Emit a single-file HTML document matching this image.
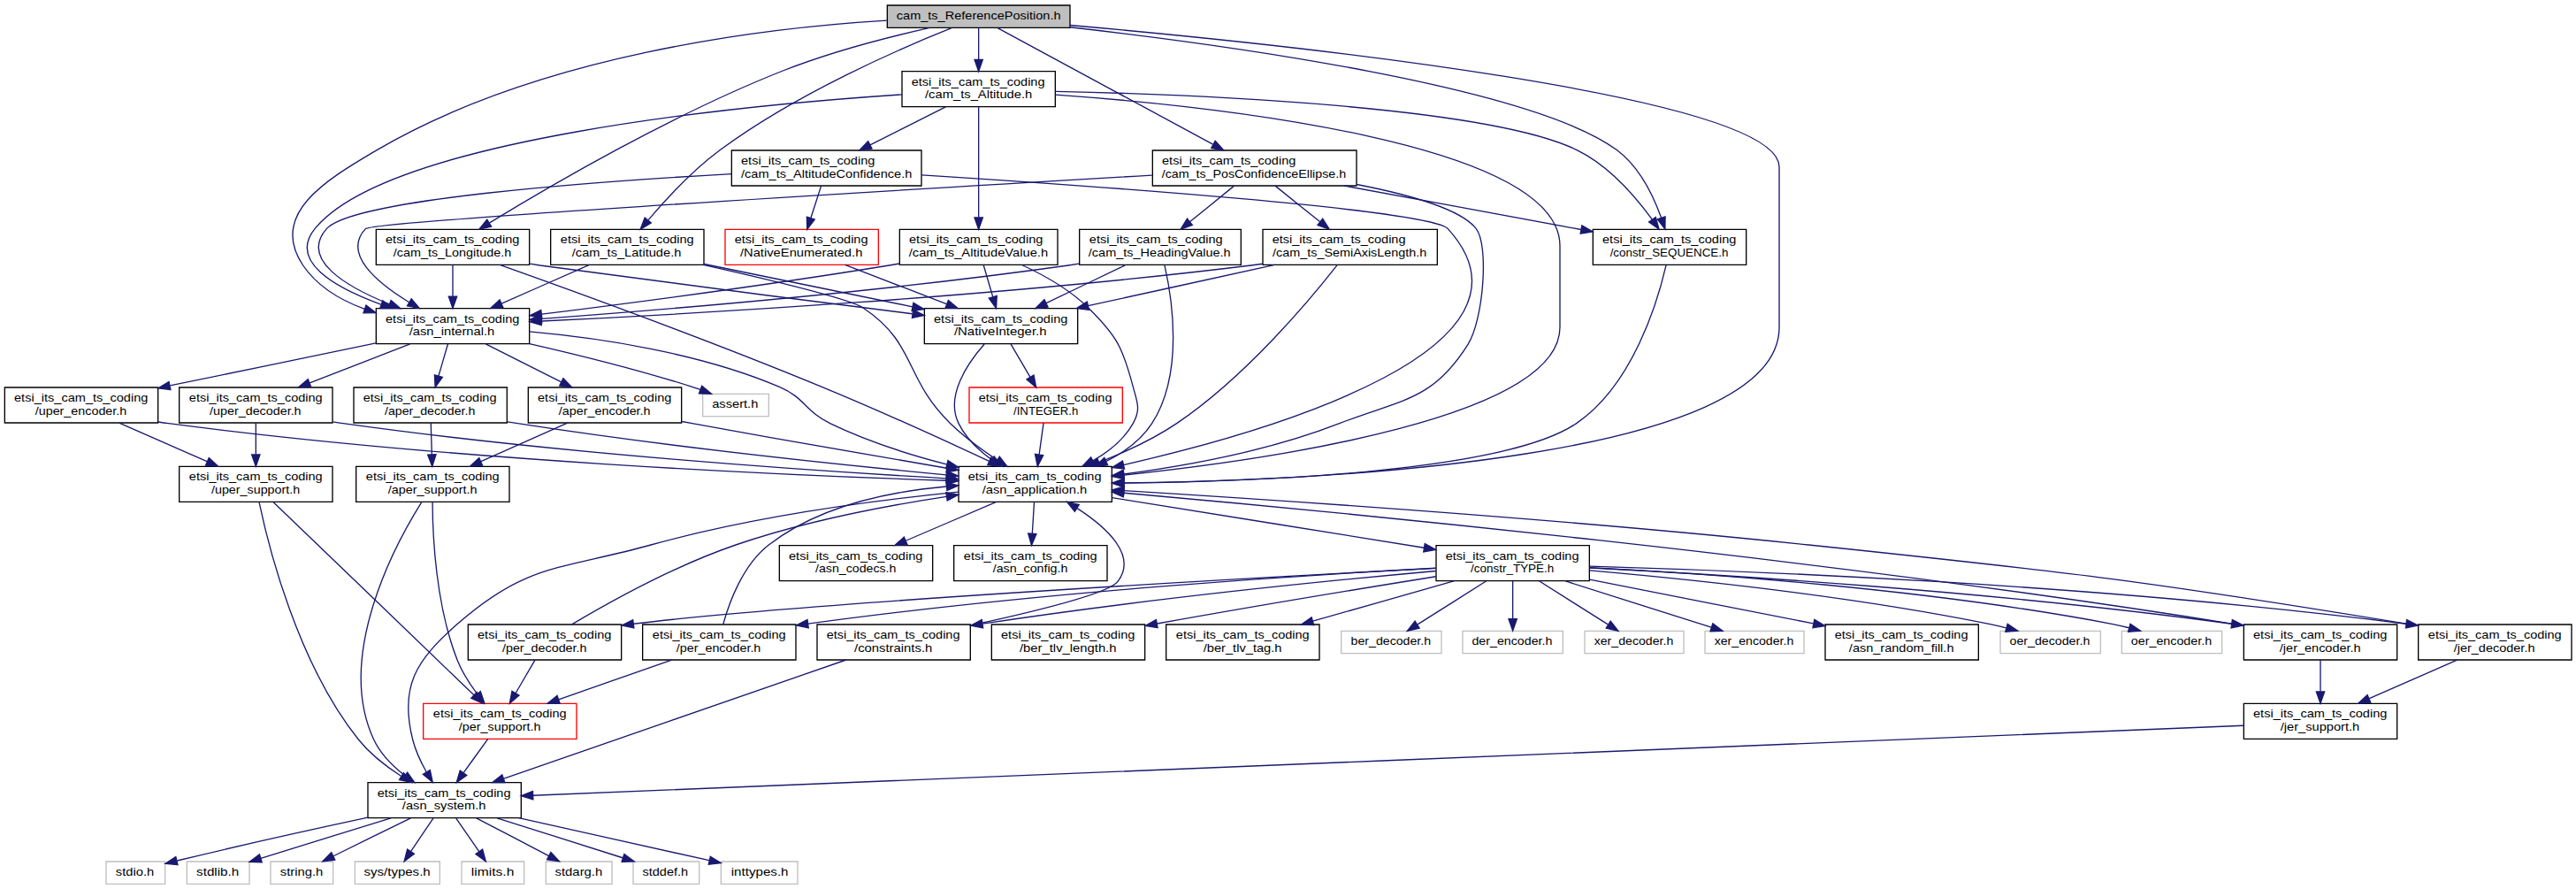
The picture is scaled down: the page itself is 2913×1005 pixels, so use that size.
<!DOCTYPE html>
<html><head><meta charset="utf-8">
<title>cam_ts_ReferencePosition.h include dependency graph</title><style>
html,body{margin:0;padding:0;background:#fff;overflow:hidden;}
svg{display:block;}
text{font-family:"Liberation Sans",sans-serif;font-size:10.00px;fill:#000;}
</style></head><body>
<svg width="2913" height="1005">
<g transform="scale(1.3333333) translate(4 750)">
<polygon fill="#bfbfbf" stroke="black" points="748.5,-726.5 748.5,-745.5 903.5,-745.5 903.5,-726.5 748.5,-726.5"/>
<text x="756.35" y="-733.5" textLength="139.31" lengthAdjust="spacingAndGlyphs">cam_ts_ReferencePosition.h</text>
<polygon fill="white" stroke="black" points="809,-324.5 809,-354.5 939,-354.5 939,-324.5 809,-324.5"/>
<text x="817.00" y="-342.5" textLength="113.14" lengthAdjust="spacingAndGlyphs">etsi_its_cam_ts_coding</text>
<text x="829.01" y="-331.5" textLength="88.85" lengthAdjust="spacingAndGlyphs">/asn_application.h</text>
<path fill="none" stroke="midnightblue" d="M903.56,-728.6C1081.72,-712.86 1505,-669.09 1505,-608.5 1505,-608.5 1505,-608.5 1505,-472.5 1505,-360.13 1116.8,-342.83 949.37,-340.59"/>
<polygon fill="midnightblue" stroke="midnightblue" points="949.19,-337.09 939.15,-340.47 949.11,-344.09 949.19,-337.09"/>
<polygon fill="white" stroke="black" points="463,-525.5 463,-555.5 593,-555.5 593,-525.5 463,-525.5"/>
<text x="471.37" y="-543.5" textLength="113.15" lengthAdjust="spacingAndGlyphs">etsi_its_cam_ts_coding</text>
<text x="481.10" y="-532.5" textLength="92.66" lengthAdjust="spacingAndGlyphs">/cam_ts_Latitude.h</text>
<path fill="none" stroke="midnightblue" d="M803.5,-726.39C762.21,-709.98 672.58,-671.5 607,-623 583.58,-605.68 560.87,-581.19 545.86,-563.58"/>
<polygon fill="midnightblue" stroke="midnightblue" points="548.24,-560.98 539.13,-555.56 542.87,-565.47 548.24,-560.98"/>
<polygon fill="white" stroke="black" points="315,-458.5 315,-488.5 445,-488.5 445,-458.5 315,-458.5"/>
<text x="323.00" y="-476.5" textLength="113.52" lengthAdjust="spacingAndGlyphs">etsi_its_cam_ts_coding</text>
<text x="343.04" y="-465.5" textLength="72.42" lengthAdjust="spacingAndGlyphs">/asn_internal.h</text>
<path fill="none" stroke="midnightblue" d="M748.07,-732.61C643.15,-726.25 453.75,-703.5 316,-623 271.29,-596.88 223.93,-567.85 253,-525 265.19,-507.03 284.89,-495.46 305.18,-488"/>
<polygon fill="midnightblue" stroke="midnightblue" points="306.47,-491.26 314.84,-484.76 304.24,-484.62 306.47,-491.26"/>
<polygon fill="white" stroke="black" points="315,-525.5 315,-555.5 445,-555.5 445,-525.5 315,-525.5"/>
<text x="323.00" y="-543.5" textLength="113.52" lengthAdjust="spacingAndGlyphs">etsi_its_cam_ts_coding</text>
<text x="329.56" y="-532.5" textLength="100.13" lengthAdjust="spacingAndGlyphs">/cam_ts_Longitude.h</text>
<path fill="none" stroke="midnightblue" d="M784.59,-726.48C750.49,-718.82 701.24,-706.29 660,-690 565.57,-652.7 461.8,-592.02 411.22,-561.05"/>
<polygon fill="midnightblue" stroke="midnightblue" points="412.75,-557.88 402.4,-555.62 409.08,-563.84 412.75,-557.88"/>
<polygon fill="white" stroke="black" points="973.5,-592.5 973.5,-622.5 1146.5,-622.5 1146.5,-592.5 973.5,-592.5"/>
<text x="981.50" y="-610.5" textLength="113.52" lengthAdjust="spacingAndGlyphs">etsi_its_cam_ts_coding</text>
<text x="981.26" y="-599.5" textLength="156.34" lengthAdjust="spacingAndGlyphs">/cam_ts_PosConfidenceEllipse.h</text>
<path fill="none" stroke="midnightblue" d="M842.08,-726.31C879.51,-706.07 973.15,-655.45 1024.66,-627.6"/>
<polygon fill="midnightblue" stroke="midnightblue" points="1026.63,-630.52 1033.77,-622.68 1023.3,-624.36 1026.63,-630.52"/>
<polygon fill="white" stroke="black" points="1347,-525.5 1347,-555.5 1477,-555.5 1477,-525.5 1347,-525.5"/>
<text x="1355.00" y="-543.5" textLength="113.52" lengthAdjust="spacingAndGlyphs">etsi_its_cam_ts_coding</text>
<text x="1361.49" y="-532.5" textLength="100.28" lengthAdjust="spacingAndGlyphs">/constr_SEQUENCE.h</text>
<path fill="none" stroke="midnightblue" d="M903.56,-726.96C1034.96,-712.06 1294.19,-676.68 1367,-623 1386.21,-608.84 1398.23,-583.9 1404.96,-565.33"/>
<polygon fill="midnightblue" stroke="midnightblue" points="1408.31,-566.37 1408.17,-555.77 1401.67,-564.14 1408.31,-566.37"/>
<polygon fill="white" stroke="black" points="761,-659.5 761,-689.5 891,-689.5 891,-659.5 761,-659.5"/>
<text x="769.00" y="-677.5" textLength="113.14" lengthAdjust="spacingAndGlyphs">etsi_its_cam_ts_coding</text>
<text x="780.52" y="-666.5" textLength="90.96" lengthAdjust="spacingAndGlyphs">/cam_ts_Altitude.h</text>
<path fill="none" stroke="midnightblue" d="M826,-726.48C826,-719.47 826,-709.19 826,-699.7"/>
<polygon fill="midnightblue" stroke="midnightblue" points="829.5,-699.52 826,-689.52 822.5,-699.52 829.5,-699.52"/>
<polygon fill="white" stroke="black" points="308,-56.5 308,-86.5 438,-86.5 438,-56.5 308,-56.5"/>
<text x="316.00" y="-74.5" textLength="113.14" lengthAdjust="spacingAndGlyphs">etsi_its_cam_ts_coding</text>
<text x="337.14" y="-63.5" textLength="70.96" lengthAdjust="spacingAndGlyphs">/asn_system.h</text>
<path fill="none" stroke="midnightblue" d="M808.72,-332.92C742.22,-326.19 636.57,-312.59 548,-288 472.13,-266.94 443.12,-273 384,-221 348.92,-190.15 334.65,-168.31 346,-123 348.39,-113.47 352.95,-103.77 357.66,-95.46"/>
<polygon fill="midnightblue" stroke="midnightblue" points="360.75,-97.11 362.93,-86.74 354.76,-93.49 360.75,-97.11"/>
<polygon fill="white" stroke="black" points="657,-257.5 657,-287.5 787,-287.5 787,-257.5 657,-257.5"/>
<text x="665.00" y="-275.5" textLength="113.52" lengthAdjust="spacingAndGlyphs">etsi_its_cam_ts_coding</text>
<text x="687.55" y="-264.5" textLength="68.52" lengthAdjust="spacingAndGlyphs">/asn_codecs.h</text>
<path fill="none" stroke="midnightblue" d="M841.02,-324.4C818.51,-314.77 788.5,-301.94 764.24,-291.56"/>
<polygon fill="midnightblue" stroke="midnightblue" points="765.49,-288.29 754.92,-287.58 762.74,-294.73 765.49,-288.29"/>
<polygon fill="white" stroke="black" points="805,-257.5 805,-287.5 935,-287.5 935,-257.5 805,-257.5"/>
<text x="813.37" y="-275.5" textLength="113.15" lengthAdjust="spacingAndGlyphs">etsi_its_cam_ts_coding</text>
<text x="838.04" y="-264.5" textLength="63.53" lengthAdjust="spacingAndGlyphs">/asn_config.h</text>
<path fill="none" stroke="midnightblue" d="M873.13,-324.4C872.65,-316.56 872.04,-306.6 871.48,-297.57"/>
<polygon fill="midnightblue" stroke="midnightblue" points="874.97,-297.34 870.87,-287.58 867.99,-297.77 874.97,-297.34"/>
<polygon fill="white" stroke="black" points="1214,-257.5 1214,-287.5 1344,-287.5 1344,-257.5 1214,-257.5"/>
<text x="1222.00" y="-275.5" textLength="113.14" lengthAdjust="spacingAndGlyphs">etsi_its_cam_ts_coding</text>
<text x="1243.29" y="-264.5" textLength="70.67" lengthAdjust="spacingAndGlyphs">/constr_TYPE.h</text>
<path fill="none" stroke="midnightblue" d="M939.07,-328.06C1011.29,-316.47 1127.68,-297.79 1203.76,-285.58"/>
<polygon fill="midnightblue" stroke="midnightblue" points="1204.44,-289.01 1213.76,-283.97 1203.33,-282.1 1204.44,-289.01"/>
<polygon fill="white" stroke="#bfbfbf" points="86,-0.5 86,-19.5 136,-19.5 136,-0.5 86,-0.5"/>
<text x="94.15" y="-7.5" textLength="32.59" lengthAdjust="spacingAndGlyphs">stdio.h</text>
<path fill="none" stroke="midnightblue" d="M307.97,-56.84C264.68,-47.57 206.31,-34.75 146.26,-20.24"/>
<polygon fill="midnightblue" stroke="midnightblue" points="146.77,-16.76 136.22,-17.8 145.11,-23.56 146.77,-16.76"/>
<polygon fill="white" stroke="#bfbfbf" points="154.5,-0.5 154.5,-19.5 207.5,-19.5 207.5,-0.5 154.5,-0.5"/>
<text x="162.55" y="-7.5" textLength="36.15" lengthAdjust="spacingAndGlyphs">stdlib.h</text>
<path fill="none" stroke="midnightblue" d="M327.5,-56.4C293.78,-45.95 248.43,-31.9 217.17,-22.21"/>
<polygon fill="midnightblue" stroke="midnightblue" points="218.14,-18.84 207.55,-19.23 216.06,-25.53 218.14,-18.84"/>
<polygon fill="white" stroke="#bfbfbf" points="225.5,-0.5 225.5,-19.5 278.5,-19.5 278.5,-0.5 225.5,-0.5"/>
<text x="233.64" y="-7.5" textLength="36.36" lengthAdjust="spacingAndGlyphs">string.h</text>
<path fill="none" stroke="midnightblue" d="M344.32,-56.4C324.48,-46.64 298.24,-33.74 278.81,-24.18"/>
<polygon fill="midnightblue" stroke="midnightblue" points="280.12,-20.93 269.61,-19.66 277.04,-27.21 280.12,-20.93"/>
<polygon fill="white" stroke="#bfbfbf" points="297,-0.5 297,-19.5 369,-19.5 369,-0.5 297,-0.5"/>
<text x="304.62" y="-7.5" textLength="56.39" lengthAdjust="spacingAndGlyphs">sys/types.h</text>
<path fill="none" stroke="midnightblue" d="M363.52,-56.4C357.83,-47.93 350.55,-37.1 344.52,-28.14"/>
<polygon fill="midnightblue" stroke="midnightblue" points="347.3,-26 338.82,-19.66 341.49,-29.91 347.3,-26"/>
<polygon fill="white" stroke="#bfbfbf" points="387.5,-0.5 387.5,-19.5 440.5,-19.5 440.5,-0.5 387.5,-0.5"/>
<text x="395.64" y="-7.5" textLength="36.35" lengthAdjust="spacingAndGlyphs">limits.h</text>
<path fill="none" stroke="midnightblue" d="M382.72,-56.4C388.55,-47.93 396.02,-37.1 402.19,-28.14"/>
<polygon fill="midnightblue" stroke="midnightblue" points="405.24,-29.88 408.03,-19.66 399.48,-25.91 405.24,-29.88"/>
<polygon fill="white" stroke="#bfbfbf" points="459,-0.5 459,-19.5 515,-19.5 515,-0.5 459,-0.5"/>
<text x="466.67" y="-7.5" textLength="40.28" lengthAdjust="spacingAndGlyphs">stdarg.h</text>
<path fill="none" stroke="midnightblue" d="M400.02,-56.4C418.63,-46.68 443.21,-33.86 461.49,-24.31"/>
<polygon fill="midnightblue" stroke="midnightblue" points="463.17,-27.39 470.41,-19.66 459.93,-21.18 463.17,-27.39"/>
<polygon fill="white" stroke="#bfbfbf" points="533,-0.5 533,-19.5 589,-19.5 589,-0.5 533,-0.5"/>
<text x="540.87" y="-7.5" textLength="38.77" lengthAdjust="spacingAndGlyphs">stddef.h</text>
<path fill="none" stroke="midnightblue" d="M417.55,-56.4C450.04,-46.12 493.54,-32.35 524.09,-22.68"/>
<polygon fill="midnightblue" stroke="midnightblue" points="525.44,-25.93 533.92,-19.57 523.33,-19.25 525.44,-25.93"/>
<polygon fill="white" stroke="#bfbfbf" points="607.5,-0.5 607.5,-19.5 672.5,-19.5 672.5,-0.5 607.5,-0.5"/>
<text x="616.07" y="-7.5" textLength="48.60" lengthAdjust="spacingAndGlyphs">inttypes.h</text>
<path fill="none" stroke="midnightblue" d="M435.94,-56.47C485.75,-45.37 553.96,-30.17 597.51,-20.47"/>
<polygon fill="midnightblue" stroke="midnightblue" points="598.48,-23.84 607.48,-18.25 596.96,-17.01 598.48,-23.84"/>
<polygon fill="white" stroke="black" points="837,-190.5 837,-220.5 967,-220.5 967,-190.5 837,-190.5"/>
<text x="845.00" y="-208.5" textLength="113.52" lengthAdjust="spacingAndGlyphs">etsi_its_cam_ts_coding</text>
<text x="860.75" y="-197.5" textLength="82.12" lengthAdjust="spacingAndGlyphs">/ber_tlv_length.h</text>
<path fill="none" stroke="midnightblue" d="M1213.89,-261.2C1154.75,-251.71 1064.84,-236.98 977.44,-221.23"/>
<polygon fill="midnightblue" stroke="midnightblue" points="977.81,-217.75 967.35,-219.41 976.57,-224.63 977.81,-217.75"/>
<polygon fill="white" stroke="black" points="985,-190.5 985,-220.5 1115,-220.5 1115,-190.5 985,-190.5"/>
<text x="993.37" y="-208.5" textLength="113.15" lengthAdjust="spacingAndGlyphs">etsi_its_cam_ts_coding</text>
<text x="1016.50" y="-197.5" textLength="66.63" lengthAdjust="spacingAndGlyphs">/ber_tlv_tag.h</text>
<path fill="none" stroke="midnightblue" d="M1229.59,-257.48C1194.35,-247.47 1146.78,-233.97 1109.46,-223.38"/>
<polygon fill="midnightblue" stroke="midnightblue" points="1110.29,-219.97 1099.71,-220.61 1108.38,-226.71 1110.29,-219.97"/>
<polygon fill="white" stroke="#bfbfbf" points="1133.5,-196 1133.5,-215 1218.5,-215 1218.5,-196 1133.5,-196"/>
<text x="1141.66" y="-203" textLength="67.94" lengthAdjust="spacingAndGlyphs">ber_decoder.h</text>
<path fill="none" stroke="midnightblue" d="M1256.65,-257.4C1239.38,-246.5 1215.58,-231.48 1198.32,-220.58"/>
<polygon fill="midnightblue" stroke="midnightblue" points="1199.81,-217.38 1189.48,-215.01 1196.07,-223.3 1199.81,-217.38"/>
<polygon fill="white" stroke="#bfbfbf" points="1236.5,-196 1236.5,-215 1321.5,-215 1321.5,-196 1236.5,-196"/>
<text x="1244.30" y="-203" textLength="68.29" lengthAdjust="spacingAndGlyphs">der_encoder.h</text>
<path fill="none" stroke="midnightblue" d="M1279,-257.4C1279,-248.06 1279,-235.71 1279,-225.52"/>
<polygon fill="midnightblue" stroke="midnightblue" points="1282.5,-225.19 1279,-215.19 1275.5,-225.19 1282.5,-225.19"/>
<polygon fill="white" stroke="#bfbfbf" points="1340,-196 1340,-215 1424,-215 1424,-196 1340,-196"/>
<text x="1348.02" y="-203" textLength="67.21" lengthAdjust="spacingAndGlyphs">xer_decoder.h</text>
<path fill="none" stroke="midnightblue" d="M1301.35,-257.4C1318.62,-246.5 1342.42,-231.48 1359.68,-220.58"/>
<polygon fill="midnightblue" stroke="midnightblue" points="1361.93,-223.3 1368.52,-215.01 1358.19,-217.38 1361.93,-223.3"/>
<polygon fill="white" stroke="#bfbfbf" points="1442,-196 1442,-215 1526,-215 1526,-196 1442,-196"/>
<text x="1450.03" y="-203" textLength="67.20" lengthAdjust="spacingAndGlyphs">xer_encoder.h</text>
<path fill="none" stroke="midnightblue" d="M1323.23,-257.48C1360.3,-245.72 1412.59,-229.14 1447.35,-218.12"/>
<polygon fill="midnightblue" stroke="midnightblue" points="1448.63,-221.39 1457.1,-215.03 1446.51,-214.71 1448.63,-221.39"/>
<polygon fill="white" stroke="black" points="2047,-190.5 2047,-220.5 2177,-220.5 2177,-190.5 2047,-190.5"/>
<text x="2055.37" y="-208.5" textLength="113.15" lengthAdjust="spacingAndGlyphs">etsi_its_cam_ts_coding</text>
<text x="2077.01" y="-197.5" textLength="68.85" lengthAdjust="spacingAndGlyphs">/jer_decoder.h</text>
<path fill="none" stroke="midnightblue" d="M1344.25,-269.95C1474.25,-266.25 1774.89,-254.67 2036.63,-221.07"/>
<polygon fill="midnightblue" stroke="midnightblue" points="2037.24,-224.52 2046.7,-219.76 2036.34,-217.58 2037.24,-224.52"/>
<polygon fill="white" stroke="black" points="1899,-190.5 1899,-220.5 2029,-220.5 2029,-190.5 1899,-190.5"/>
<text x="1907.00" y="-208.5" textLength="113.52" lengthAdjust="spacingAndGlyphs">etsi_its_cam_ts_coding</text>
<text x="1929.39" y="-197.5" textLength="68.85" lengthAdjust="spacingAndGlyphs">/jer_encoder.h</text>
<path fill="none" stroke="midnightblue" d="M1344.37,-268.48C1454.64,-262.87 1684.76,-248.91 1888.7,-221.08"/>
<polygon fill="midnightblue" stroke="midnightblue" points="1889.27,-224.54 1898.7,-219.7 1888.31,-217.6 1889.27,-224.54"/>
<polygon fill="white" stroke="black" points="393,-190.5 393,-220.5 523,-220.5 523,-190.5 393,-190.5"/>
<text x="401.00" y="-208.5" textLength="113.52" lengthAdjust="spacingAndGlyphs">etsi_its_cam_ts_coding</text>
<text x="421.96" y="-197.5" textLength="71.68" lengthAdjust="spacingAndGlyphs">/per_decoder.h</text>
<path fill="none" stroke="midnightblue" d="M1213.89,-268.16C1061,-260.14 681.4,-239.21 533.54,-221.06"/>
<polygon fill="midnightblue" stroke="midnightblue" points="533.66,-217.55 523.3,-219.76 532.78,-224.49 533.66,-217.55"/>
<polygon fill="white" stroke="black" points="541,-190.5 541,-220.5 671,-220.5 671,-190.5 541,-190.5"/>
<text x="549.37" y="-208.5" textLength="113.15" lengthAdjust="spacingAndGlyphs">etsi_its_cam_ts_coding</text>
<text x="569.60" y="-197.5" textLength="71.67" lengthAdjust="spacingAndGlyphs">/per_encoder.h</text>
<path fill="none" stroke="midnightblue" d="M1213.59,-268.33C1105.02,-262.56 880.63,-248.44 681.37,-221.09"/>
<polygon fill="midnightblue" stroke="midnightblue" points="681.69,-217.61 671.3,-219.7 680.73,-224.54 681.69,-217.61"/>
<polygon fill="white" stroke="black" points="689,-190.5 689,-220.5 819,-220.5 819,-190.5 689,-190.5"/>
<text x="697.00" y="-208.5" textLength="113.14" lengthAdjust="spacingAndGlyphs">etsi_its_cam_ts_coding</text>
<text x="720.52" y="-197.5" textLength="66.21" lengthAdjust="spacingAndGlyphs">/constraints.h</text>
<path fill="none" stroke="midnightblue" d="M1213.8,-265.89C1127.97,-258.13 972.19,-242.75 829.56,-221.17"/>
<polygon fill="midnightblue" stroke="midnightblue" points="829.73,-217.65 819.32,-219.6 828.68,-224.57 829.73,-217.65"/>
<polygon fill="white" stroke="black" points="1544,-190.5 1544,-220.5 1674,-220.5 1674,-190.5 1544,-190.5"/>
<text x="1552.00" y="-208.5" textLength="113.14" lengthAdjust="spacingAndGlyphs">etsi_its_cam_ts_coding</text>
<text x="1564.15" y="-197.5" textLength="88.95" lengthAdjust="spacingAndGlyphs">/asn_random_fill.h</text>
<path fill="none" stroke="midnightblue" d="M1344.2,-258.66C1398.77,-247.91 1476.69,-232.56 1533.87,-221.3"/>
<polygon fill="midnightblue" stroke="midnightblue" points="1534.8,-224.68 1543.94,-219.32 1533.45,-217.81 1534.8,-224.68"/>
<polygon fill="white" stroke="#bfbfbf" points="1692.5,-196 1692.5,-215 1777.5,-215 1777.5,-196 1692.5,-196"/>
<text x="1700.40" y="-203" textLength="68.08" lengthAdjust="spacingAndGlyphs">oer_decoder.h</text>
<path fill="none" stroke="midnightblue" d="M1344.2,-266.33C1424.46,-259.29 1564.67,-244.76 1683,-221 1687.75,-220.05 1692.69,-218.89 1697.57,-217.65"/>
<polygon fill="midnightblue" stroke="midnightblue" points="1698.63,-220.98 1707.39,-215.02 1696.82,-214.22 1698.63,-220.98"/>
<polygon fill="white" stroke="#bfbfbf" points="1795.5,-196 1795.5,-215 1880.5,-215 1880.5,-196 1795.5,-196"/>
<text x="1803.40" y="-203" textLength="68.45" lengthAdjust="spacingAndGlyphs">oer_encoder.h</text>
<path fill="none" stroke="midnightblue" d="M1344.08,-268.74C1441.24,-263.78 1629.63,-250.95 1787,-221 1791.78,-220.09 1796.76,-218.94 1801.65,-217.68"/>
<polygon fill="midnightblue" stroke="midnightblue" points="1802.75,-221.01 1811.48,-215.01 1800.91,-214.26 1802.75,-221.01"/>
<path fill="none" stroke="midnightblue" d="M2046.67,-219.53C2043.74,-220.04 2040.84,-220.53 2038,-221 1813.26,-257.8 1756.5,-264.36 1530,-288 1320.05,-309.91 1071.36,-326.5 949.28,-334.04"/>
<polygon fill="midnightblue" stroke="midnightblue" points="949.05,-330.55 939.28,-334.65 949.48,-337.53 949.05,-330.55"/>
<polygon fill="white" stroke="black" points="1899,-123.5 1899,-153.5 2029,-153.5 2029,-123.5 1899,-123.5"/>
<text x="1907.00" y="-141.5" textLength="113.52" lengthAdjust="spacingAndGlyphs">etsi_its_cam_ts_coding</text>
<text x="1930.09" y="-130.5" textLength="67.07" lengthAdjust="spacingAndGlyphs">/jer_support.h</text>
<path fill="none" stroke="midnightblue" d="M2079.89,-190.4C2058.07,-180.81 2029.01,-168.05 2005.44,-157.7"/>
<polygon fill="midnightblue" stroke="midnightblue" points="2006.61,-154.39 1996.05,-153.58 2003.8,-160.8 2006.61,-154.39"/>
<path fill="none" stroke="midnightblue" d="M1898.66,-134.83C1644.07,-124.43 719.17,-86.64 448.13,-75.57"/>
<polygon fill="midnightblue" stroke="midnightblue" points="448.14,-72.07 438,-75.16 447.85,-79.06 448.14,-72.07"/>
<path fill="none" stroke="midnightblue" d="M1898.67,-219.56C1895.75,-220.06 1892.84,-220.54 1890,-221 1539.92,-277.07 1117.86,-317.15 949.07,-332.08"/>
<polygon fill="midnightblue" stroke="midnightblue" points="948.7,-328.6 939.05,-332.96 949.32,-335.57 948.7,-328.6"/>
<path fill="none" stroke="midnightblue" d="M1964,-190.4C1964,-182.64 1964,-172.81 1964,-163.86"/>
<polygon fill="midnightblue" stroke="midnightblue" points="1967.5,-163.58 1964,-153.58 1960.5,-163.58 1967.5,-163.58"/>
<path fill="none" stroke="midnightblue" d="M481.01,-220.59C511.65,-238.76 568.05,-270.14 620,-288 678.49,-308.11 747.48,-321.19 798.78,-328.99"/>
<polygon fill="midnightblue" stroke="midnightblue" points="798.39,-332.47 808.8,-330.48 799.42,-325.55 798.39,-332.47"/>
<polygon fill="white" stroke="red" points="355,-123.5 355,-153.5 485,-153.5 485,-123.5 355,-123.5"/>
<text x="363.37" y="-141.5" textLength="113.15" lengthAdjust="spacingAndGlyphs">etsi_its_cam_ts_coding</text>
<text x="385.06" y="-130.5" textLength="69.51" lengthAdjust="spacingAndGlyphs">/per_support.h</text>
<path fill="none" stroke="midnightblue" d="M449.75,-190.4C444.97,-182.22 438.84,-171.73 433.38,-162.39"/>
<polygon fill="midnightblue" stroke="midnightblue" points="436.3,-160.44 428.23,-153.58 430.25,-163.98 436.3,-160.44"/>
<path fill="none" stroke="midnightblue" d="M409.8,-123.4C403.77,-115.05 395.98,-104.29 389.13,-94.81"/>
<polygon fill="midnightblue" stroke="midnightblue" points="391.87,-92.63 383.18,-86.58 386.2,-96.73 391.87,-92.63"/>
<path fill="none" stroke="midnightblue" d="M609.33,-220.7C614.42,-239.14 625.95,-270.98 648,-288 690.84,-321.07 751.12,-333.33 798.65,-337.51"/>
<polygon fill="midnightblue" stroke="midnightblue" points="798.66,-341.02 808.9,-338.31 799.2,-334.04 798.66,-341.02"/>
<path fill="none" stroke="midnightblue" d="M565.64,-190.4C537.49,-180.56 499.74,-167.37 469.73,-156.88"/>
<polygon fill="midnightblue" stroke="midnightblue" points="470.88,-153.57 460.28,-153.58 468.57,-160.18 470.88,-153.57"/>
<path fill="none" stroke="midnightblue" d="M819.19,-219.75C871.02,-230.95 936.12,-246.75 944,-257 960.88,-278.96 934.63,-302.86 909.6,-319.07"/>
<polygon fill="midnightblue" stroke="midnightblue" points="907.54,-316.23 900.87,-324.46 911.22,-322.18 907.54,-316.23"/>
<path fill="none" stroke="midnightblue" d="M713.59,-190.5C643.57,-166.24 499.9,-116.46 423.45,-89.98"/>
<polygon fill="midnightblue" stroke="midnightblue" points="424.17,-86.52 413.57,-86.56 421.88,-93.14 424.17,-86.52"/>
<path fill="none" stroke="midnightblue" d="M592.48,-525.47C646.47,-513.35 716.51,-496.62 728,-489 773.48,-458.83 762.74,-428.91 802,-391 813.87,-379.54 828.55,-368.76 841.55,-360.12"/>
<polygon fill="midnightblue" stroke="midnightblue" points="843.73,-362.88 850.23,-354.5 839.93,-357 843.73,-362.88"/>
<polygon fill="white" stroke="black" points="780,-458.5 780,-488.5 910,-488.5 910,-458.5 780,-458.5"/>
<text x="788.00" y="-476.5" textLength="113.52" lengthAdjust="spacingAndGlyphs">etsi_its_cam_ts_coding</text>
<text x="805.21" y="-465.5" textLength="78.44" lengthAdjust="spacingAndGlyphs">/NativeInteger.h</text>
<path fill="none" stroke="midnightblue" d="M593.3,-526.11C644.66,-515.58 716.26,-500.9 769.97,-489.88"/>
<polygon fill="midnightblue" stroke="midnightblue" points="770.69,-493.31 779.79,-487.87 769.29,-486.45 770.69,-493.31"/>
<path fill="none" stroke="midnightblue" d="M495.89,-525.4C474.07,-515.81 445.01,-503.05 421.44,-492.7"/>
<polygon fill="midnightblue" stroke="midnightblue" points="422.61,-489.39 412.05,-488.58 419.8,-495.8 422.61,-489.39"/>
<path fill="none" stroke="midnightblue" d="M830.85,-458.21C816.42,-441.82 797.64,-414.2 809,-391 815.11,-378.52 825.95,-368.24 837.05,-360.28"/>
<polygon fill="midnightblue" stroke="midnightblue" points="839.13,-363.1 845.52,-354.65 835.25,-357.28 839.13,-363.1"/>
<polygon fill="white" stroke="red" points="818,-391.5 818,-421.5 948,-421.5 948,-391.5 818,-391.5"/>
<text x="826.00" y="-409.5" textLength="113.14" lengthAdjust="spacingAndGlyphs">etsi_its_cam_ts_coding</text>
<text x="855.54" y="-398.5" textLength="54.91" lengthAdjust="spacingAndGlyphs">/INTEGER.h</text>
<path fill="none" stroke="midnightblue" d="M853.25,-458.4C858.03,-450.22 864.16,-439.73 869.62,-430.39"/>
<polygon fill="midnightblue" stroke="midnightblue" points="872.75,-431.98 874.77,-421.58 866.7,-428.44 872.75,-431.98"/>
<path fill="none" stroke="midnightblue" d="M881.05,-391.4C879.96,-383.56 878.58,-373.6 877.33,-364.57"/>
<polygon fill="midnightblue" stroke="midnightblue" points="880.79,-364 875.95,-354.58 873.85,-364.96 880.79,-364"/>
<path fill="none" stroke="midnightblue" d="M445.02,-468.78C502.68,-463.61 588.19,-451.3 657,-422 678.68,-412.77 678.82,-401.32 700,-391 731,-375.89 767.36,-364.46 798.8,-356.33"/>
<polygon fill="midnightblue" stroke="midnightblue" points="799.98,-359.64 808.83,-353.8 798.28,-352.85 799.98,-359.64"/>
<polygon fill="white" stroke="#bfbfbf" points="592,-397 592,-416 648,-416 648,-397 592,-397"/>
<text x="599.89" y="-404" textLength="39.11" lengthAdjust="spacingAndGlyphs">assert.h</text>
<path fill="none" stroke="midnightblue" d="M445.05,-458.58C485.18,-449.44 537.5,-436.51 583,-422 585.27,-421.27 587.61,-420.48 589.95,-419.65"/>
<polygon fill="midnightblue" stroke="midnightblue" points="591.28,-422.89 599.43,-416.11 588.83,-416.33 591.28,-422.89"/>
<polygon fill="white" stroke="black" points="148,-391.5 148,-421.5 278,-421.5 278,-391.5 148,-391.5"/>
<text x="156.37" y="-409.5" textLength="113.15" lengthAdjust="spacingAndGlyphs">etsi_its_cam_ts_coding</text>
<text x="173.79" y="-398.5" textLength="77.65" lengthAdjust="spacingAndGlyphs">/uper_decoder.h</text>
<path fill="none" stroke="midnightblue" d="M343.76,-458.4C318.82,-448.69 285.47,-435.71 258.7,-425.29"/>
<polygon fill="midnightblue" stroke="midnightblue" points="259.75,-421.94 249.17,-421.58 257.22,-428.47 259.75,-421.94"/>
<polygon fill="white" stroke="black" points="0,-391.5 0,-421.5 130,-421.5 130,-391.5 0,-391.5"/>
<text x="8.00" y="-409.5" textLength="113.52" lengthAdjust="spacingAndGlyphs">etsi_its_cam_ts_coding</text>
<text x="25.80" y="-398.5" textLength="77.64" lengthAdjust="spacingAndGlyphs">/uper_encoder.h</text>
<path fill="none" stroke="midnightblue" d="M314.73,-459.03C263.94,-448.55 193.4,-433.99 140.24,-423.03"/>
<polygon fill="midnightblue" stroke="midnightblue" points="140.69,-419.54 130.18,-420.95 139.27,-426.4 140.69,-419.54"/>
<polygon fill="white" stroke="black" points="296,-391.5 296,-421.5 426,-421.5 426,-391.5 296,-391.5"/>
<text x="304.00" y="-409.5" textLength="113.14" lengthAdjust="spacingAndGlyphs">etsi_its_cam_ts_coding</text>
<text x="322.28" y="-398.5" textLength="76.69" lengthAdjust="spacingAndGlyphs">/aper_decoder.h</text>
<path fill="none" stroke="midnightblue" d="M375.88,-458.4C373.56,-450.47 370.61,-440.38 367.95,-431.27"/>
<polygon fill="midnightblue" stroke="midnightblue" points="371.28,-430.19 365.11,-421.58 364.56,-432.16 371.28,-430.19"/>
<polygon fill="white" stroke="black" points="444,-391.5 444,-421.5 574,-421.5 574,-391.5 444,-391.5"/>
<text x="452.00" y="-409.5" textLength="113.52" lengthAdjust="spacingAndGlyphs">etsi_its_cam_ts_coding</text>
<text x="469.90" y="-398.5" textLength="77.79" lengthAdjust="spacingAndGlyphs">/aper_encoder.h</text>
<path fill="none" stroke="midnightblue" d="M407.99,-458.4C426.75,-448.94 451.67,-436.39 472.05,-426.12"/>
<polygon fill="midnightblue" stroke="midnightblue" points="473.71,-429.2 481.06,-421.58 470.56,-422.95 473.71,-429.2"/>
<path fill="none" stroke="midnightblue" d="M278.31,-392.31C281.24,-391.84 284.15,-391.4 287,-391 469.7,-365.32 686.34,-350.76 798.41,-344.39"/>
<polygon fill="midnightblue" stroke="midnightblue" points="798.81,-347.88 808.59,-343.82 798.41,-340.89 798.81,-347.88"/>
<polygon fill="white" stroke="black" points="148,-324.5 148,-354.5 278,-354.5 278,-324.5 148,-324.5"/>
<text x="156.37" y="-342.5" textLength="113.15" lengthAdjust="spacingAndGlyphs">etsi_its_cam_ts_coding</text>
<text x="175.25" y="-331.5" textLength="75.12" lengthAdjust="spacingAndGlyphs">/uper_support.h</text>
<path fill="none" stroke="midnightblue" d="M213,-391.4C213,-383.64 213,-373.81 213,-364.86"/>
<polygon fill="midnightblue" stroke="midnightblue" points="216.5,-364.58 213,-354.58 209.5,-364.58 216.5,-364.58"/>
<path fill="none" stroke="midnightblue" d="M215.72,-324.48C223.39,-287.89 248.08,-187.91 300,-123 309.85,-110.68 323.5,-100.14 336.33,-91.92"/>
<polygon fill="midnightblue" stroke="midnightblue" points="338.32,-94.81 345.03,-86.61 334.67,-88.84 338.32,-94.81"/>
<path fill="none" stroke="midnightblue" d="M227.89,-324.19C263.84,-289.62 355.57,-201.44 397.94,-160.71"/>
<polygon fill="midnightblue" stroke="midnightblue" points="400.46,-163.14 405.25,-153.68 395.61,-158.09 400.46,-163.14"/>
<path fill="none" stroke="midnightblue" d="M130.3,-392.25C133.23,-391.8 136.14,-391.38 139,-391 378.76,-359.4 665.29,-346.93 798.72,-342.57"/>
<polygon fill="midnightblue" stroke="midnightblue" points="798.95,-346.06 808.84,-342.25 798.73,-339.07 798.95,-346.06"/>
<path fill="none" stroke="midnightblue" d="M97.11,-391.4C118.93,-381.81 147.99,-369.05 171.56,-358.7"/>
<polygon fill="midnightblue" stroke="midnightblue" points="173.2,-361.8 180.95,-354.58 170.39,-355.39 173.2,-361.8"/>
<path fill="none" stroke="midnightblue" d="M426.32,-392.41C429.25,-391.91 432.15,-391.44 435,-391 562.07,-371.27 710.94,-355.73 798.58,-347.35"/>
<polygon fill="midnightblue" stroke="midnightblue" points="799.08,-350.82 808.7,-346.39 798.42,-343.85 799.08,-350.82"/>
<polygon fill="white" stroke="black" points="298,-324.5 298,-354.5 428,-354.5 428,-324.5 298,-324.5"/>
<text x="306.37" y="-342.5" textLength="113.15" lengthAdjust="spacingAndGlyphs">etsi_its_cam_ts_coding</text>
<text x="325.00" y="-331.5" textLength="75.63" lengthAdjust="spacingAndGlyphs">/aper_support.h</text>
<path fill="none" stroke="midnightblue" d="M361.43,-391.4C361.67,-383.64 361.98,-373.81 362.25,-364.86"/>
<polygon fill="midnightblue" stroke="midnightblue" points="365.76,-364.68 362.57,-354.58 358.76,-364.46 365.76,-364.68"/>
<path fill="none" stroke="midnightblue" d="M353.72,-324.49C331.57,-289.17 279.86,-194.21 313,-123 318.67,-110.82 328.87,-100.54 339.28,-92.49"/>
<polygon fill="midnightblue" stroke="midnightblue" points="341.51,-95.19 347.59,-86.52 337.42,-89.51 341.51,-95.19"/>
<path fill="none" stroke="midnightblue" d="M362.8,-324.43C362.89,-297.37 365.36,-236.67 384,-190 387.97,-180.06 394.29,-170.22 400.53,-161.9"/>
<polygon fill="midnightblue" stroke="midnightblue" points="403.45,-163.86 406.91,-153.85 397.96,-159.51 403.45,-163.86"/>
<path fill="none" stroke="midnightblue" d="M574.36,-392.61C577.28,-392.06 580.17,-391.52 583,-391 656.29,-377.46 740.15,-363.02 798.97,-353.06"/>
<polygon fill="midnightblue" stroke="midnightblue" points="799.64,-356.5 808.92,-351.38 798.47,-349.6 799.64,-356.5"/>
<path fill="none" stroke="midnightblue" d="M477.32,-391.4C455.8,-381.81 427.13,-369.05 403.88,-358.7"/>
<polygon fill="midnightblue" stroke="midnightblue" points="405.18,-355.45 394.62,-354.58 402.33,-361.84 405.18,-355.45"/>
<path fill="none" stroke="midnightblue" d="M419.84,-525.47C479.62,-504.2 595.88,-462.05 693,-422 742.43,-401.62 798.42,-376.01 834.87,-358.99"/>
<polygon fill="midnightblue" stroke="midnightblue" points="836.58,-362.06 844.15,-354.65 833.61,-355.72 836.58,-362.06"/>
<path fill="none" stroke="midnightblue" d="M445.33,-526.46C448.26,-525.95 451.16,-525.46 454,-525 484.36,-520.07 664.88,-497.16 769.7,-483.96"/>
<polygon fill="midnightblue" stroke="midnightblue" points="770.43,-487.39 779.92,-482.67 769.56,-480.45 770.43,-487.39"/>
<path fill="none" stroke="midnightblue" d="M380,-525.4C380,-517.64 380,-507.81 380,-498.86"/>
<polygon fill="midnightblue" stroke="midnightblue" points="383.5,-498.58 380,-488.58 376.5,-498.58 383.5,-498.58"/>
<path fill="none" stroke="midnightblue" d="M1146.69,-593.63C1189.66,-585.29 1235.1,-572.83 1248,-556 1258.97,-541.7 1254.07,-478.76 1241,-458 1210.7,-409.88 1184.97,-411.68 1132,-391 1072.79,-367.88 1001.64,-354.97 949.07,-348"/>
<polygon fill="midnightblue" stroke="midnightblue" points="949.51,-344.53 939.14,-346.73 948.62,-351.47 949.51,-344.53"/>
<path fill="none" stroke="midnightblue" d="M973.17,-601.45C776.11,-589.89 311.65,-562.04 306,-556 286.27,-534.9 315.63,-510.31 342.99,-493.7"/>
<polygon fill="midnightblue" stroke="midnightblue" points="344.86,-496.66 351.74,-488.6 341.34,-490.61 344.86,-496.66"/>
<polygon fill="white" stroke="black" points="1067,-525.5 1067,-555.5 1215,-555.5 1215,-525.5 1067,-525.5"/>
<text x="1075.00" y="-543.5" textLength="113.14" lengthAdjust="spacingAndGlyphs">etsi_its_cam_ts_coding</text>
<text x="1075.29" y="-532.5" textLength="130.65" lengthAdjust="spacingAndGlyphs">/cam_ts_SemiAxisLength.h</text>
<path fill="none" stroke="midnightblue" d="M1077.58,-592.4C1088.61,-583.54 1103.04,-571.96 1115.35,-562.09"/>
<polygon fill="midnightblue" stroke="midnightblue" points="1117.85,-564.56 1123.46,-555.58 1113.47,-559.11 1117.85,-564.56"/>
<polygon fill="white" stroke="black" points="911.5,-525.5 911.5,-555.5 1048.5,-555.5 1048.5,-525.5 911.5,-525.5"/>
<text x="919.87" y="-543.5" textLength="113.15" lengthAdjust="spacingAndGlyphs">etsi_its_cam_ts_coding</text>
<text x="919.14" y="-532.5" textLength="120.59" lengthAdjust="spacingAndGlyphs">/cam_ts_HeadingValue.h</text>
<path fill="none" stroke="midnightblue" d="M1042.64,-592.4C1031.74,-583.54 1017.49,-571.96 1005.34,-562.09"/>
<polygon fill="midnightblue" stroke="midnightblue" points="1007.29,-559.17 997.32,-555.58 1002.88,-564.6 1007.29,-559.17"/>
<path fill="none" stroke="midnightblue" d="M1135.95,-592.48C1195.36,-581.5 1277.56,-566.33 1336.79,-555.39"/>
<polygon fill="midnightblue" stroke="midnightblue" points="1337.63,-558.79 1346.83,-553.53 1336.36,-551.91 1337.63,-558.79"/>
<path fill="none" stroke="midnightblue" d="M1130.27,-525.41C1107.78,-496.71 1052.91,-430.82 994,-391 973.94,-377.44 949.67,-366.39 928.21,-358.12"/>
<polygon fill="midnightblue" stroke="midnightblue" points="929.17,-354.74 918.58,-354.52 926.72,-361.3 929.17,-354.74"/>
<path fill="none" stroke="midnightblue" d="M1077.14,-525.48C1030.63,-515.26 967.52,-501.41 918.85,-490.72"/>
<polygon fill="midnightblue" stroke="midnightblue" points="919.52,-487.28 909,-488.55 918.02,-494.12 919.52,-487.28"/>
<path fill="none" stroke="midnightblue" d="M1066.85,-526.3C1063.53,-525.84 1060.23,-525.4 1057,-525 839.4,-498.17 580.57,-483.67 455.33,-477.74"/>
<polygon fill="midnightblue" stroke="midnightblue" points="455.24,-474.23 445.09,-477.26 454.91,-481.23 455.24,-474.23"/>
<path fill="none" stroke="midnightblue" d="M983.65,-525.43C990.07,-497.31 1000.29,-433.29 973,-391 963.86,-376.84 949.43,-366.46 934.38,-358.93"/>
<polygon fill="midnightblue" stroke="midnightblue" points="935.52,-355.6 924.97,-354.61 932.6,-361.96 935.52,-355.6"/>
<path fill="none" stroke="midnightblue" d="M950.71,-525.4C930.98,-515.9 904.77,-503.28 883.38,-492.98"/>
<polygon fill="midnightblue" stroke="midnightblue" points="884.76,-489.76 874.24,-488.58 881.73,-496.07 884.76,-489.76"/>
<path fill="none" stroke="midnightblue" d="M911.15,-526.36C908.06,-525.88 905,-525.42 902,-525 743.8,-502.69 557.22,-487.24 455.5,-479.72"/>
<polygon fill="midnightblue" stroke="midnightblue" points="455.55,-476.22 445.32,-478.98 455.04,-483.2 455.55,-476.22"/>
<path fill="none" stroke="midnightblue" d="M1409.04,-525.08C1401.94,-494.53 1380.86,-423.44 1333,-391 1272.21,-349.79 1063.32,-341.7 949.46,-340.43"/>
<polygon fill="midnightblue" stroke="midnightblue" points="949.45,-336.93 939.42,-340.33 949.38,-343.93 949.45,-336.93"/>
<path fill="none" stroke="midnightblue" d="M891.21,-669.7C1025.2,-660.09 1319,-629.05 1319,-541.5 1319,-541.5 1319,-541.5 1319,-472.5 1319,-396.3 1076.12,-360.64 949.23,-347.22"/>
<polygon fill="midnightblue" stroke="midnightblue" points="949.49,-343.72 939.18,-346.17 948.77,-350.69 949.49,-343.72"/>
<path fill="none" stroke="midnightblue" d="M760.98,-669.88C626.51,-660.9 325.19,-632.51 263,-556 240.62,-528.46 279.99,-506.21 318.97,-491.96"/>
<polygon fill="midnightblue" stroke="midnightblue" points="320.55,-495.11 328.84,-488.51 318.24,-488.51 320.55,-495.11"/>
<path fill="none" stroke="midnightblue" d="M891.35,-672.53C1010.23,-669.85 1256.64,-659.9 1333,-623 1360.23,-609.84 1383.21,-583.16 1397.24,-563.91"/>
<polygon fill="midnightblue" stroke="midnightblue" points="1400.16,-565.85 1403.05,-555.66 1394.43,-561.82 1400.16,-565.85"/>
<polygon fill="white" stroke="black" points="759,-525.5 759,-555.5 893,-555.5 893,-525.5 759,-525.5"/>
<text x="767.00" y="-543.5" textLength="113.52" lengthAdjust="spacingAndGlyphs">etsi_its_cam_ts_coding</text>
<text x="766.79" y="-532.5" textLength="118.04" lengthAdjust="spacingAndGlyphs">/cam_ts_AltitudeValue.h</text>
<path fill="none" stroke="midnightblue" d="M826,-659.37C826,-637.04 826,-593.31 826,-565.85"/>
<polygon fill="midnightblue" stroke="midnightblue" points="829.5,-565.52 826,-555.52 822.5,-565.52 829.5,-565.52"/>
<polygon fill="white" stroke="black" points="616.5,-592.5 616.5,-622.5 777.5,-622.5 777.5,-592.5 616.5,-592.5"/>
<text x="624.50" y="-610.5" textLength="113.52" lengthAdjust="spacingAndGlyphs">etsi_its_cam_ts_coding</text>
<text x="624.52" y="-599.5" textLength="144.95" lengthAdjust="spacingAndGlyphs">/cam_ts_AltitudeConfidence.h</text>
<path fill="none" stroke="midnightblue" d="M798.01,-659.4C779.25,-649.94 754.33,-637.39 733.95,-627.12"/>
<polygon fill="midnightblue" stroke="midnightblue" points="735.44,-623.95 724.94,-622.58 732.29,-630.2 735.44,-623.95"/>
<path fill="none" stroke="midnightblue" d="M862.62,-525.38C881.13,-516.91 903,-504.7 919,-489 943.43,-465.02 948.27,-455.1 957,-422 960.51,-408.68 963.75,-403.01 957,-391 949.34,-377.37 936.34,-366.99 922.88,-359.29"/>
<polygon fill="midnightblue" stroke="midnightblue" points="924.5,-356.19 914.02,-354.62 921.23,-362.38 924.5,-356.19"/>
<path fill="none" stroke="midnightblue" d="M830.12,-525.4C832.44,-517.47 835.39,-507.38 838.05,-498.27"/>
<polygon fill="midnightblue" stroke="midnightblue" points="841.44,-499.16 840.89,-488.58 834.72,-497.19 841.44,-499.16"/>
<path fill="none" stroke="midnightblue" d="M758.9,-526.5C755.89,-525.98 752.92,-525.48 750,-525 648.41,-508.39 530.5,-492.96 455.6,-483.63"/>
<polygon fill="midnightblue" stroke="midnightblue" points="455.68,-480.11 445.32,-482.36 454.81,-487.06 455.68,-480.11"/>
<path fill="none" stroke="midnightblue" d="M777.69,-601.6C921.65,-592.46 1209.2,-572.28 1224,-556 1315.44,-455.38 1076.88,-385.16 948.89,-355.83"/>
<polygon fill="midnightblue" stroke="midnightblue" points="949.65,-352.41 939.12,-353.62 948.11,-359.24 949.65,-352.41"/>
<path fill="none" stroke="midnightblue" d="M616.33,-602.58C499.69,-596.06 295.37,-581.19 273,-556 250.13,-530.24 289.14,-507.11 326.31,-492.13"/>
<polygon fill="midnightblue" stroke="midnightblue" points="327.62,-495.38 335.68,-488.5 325.09,-488.85 327.62,-495.38"/>
<polygon fill="white" stroke="red" points="611,-525.5 611,-555.5 741,-555.5 741,-525.5 611,-525.5"/>
<text x="619.00" y="-543.5" textLength="113.14" lengthAdjust="spacingAndGlyphs">etsi_its_cam_ts_coding</text>
<text x="623.71" y="-532.5" textLength="103.82" lengthAdjust="spacingAndGlyphs">/NativeEnumerated.h</text>
<path fill="none" stroke="midnightblue" d="M692.44,-592.4C689.88,-584.47 686.62,-574.38 683.68,-565.27"/>
<polygon fill="midnightblue" stroke="midnightblue" points="686.95,-564.02 680.55,-555.58 680.29,-566.17 686.95,-564.02"/>
<path fill="none" stroke="midnightblue" d="M712.67,-525.4C737.92,-515.69 771.66,-502.71 798.75,-492.29"/>
<polygon fill="midnightblue" stroke="midnightblue" points="800.32,-495.43 808.4,-488.58 797.81,-488.9 800.32,-495.43"/>
</g>
</svg>
</body></html>
